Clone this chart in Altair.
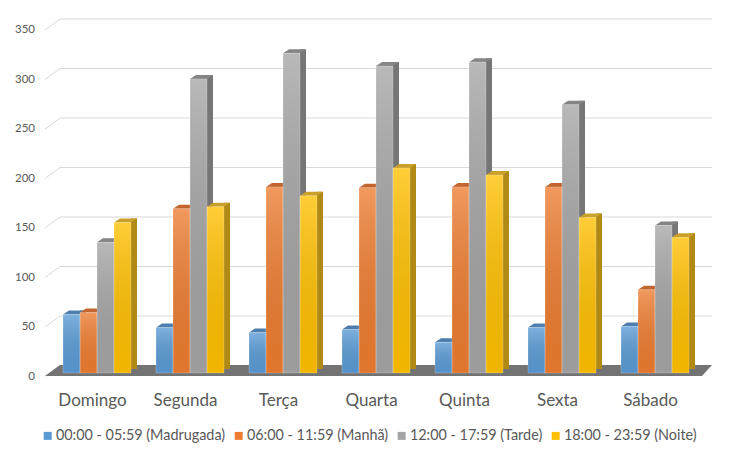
import altair as alt
import pandas as pd

days = ["Domingo", "Segunda", "Terça", "Quarta", "Quinta", "Sexta", "Sábado"]
series_names = [
    "00:00 - 05:59 (Madrugada)",
    "06:00 - 11:59 (Manhã)",
    "12:00 - 17:59 (Tarde)",
    "18:00 - 23:59 (Noite)",
]
madrugada = [59, 46, 41, 44, 31, 46, 47]
manha = [61, 166, 188, 187, 188, 188, 84]
tarde = [132, 297, 323, 310, 314, 271, 149]
noite = [152, 168, 179, 207, 200, 157, 137]
ticks = [0, 50, 100, 150, 200, 250, 300, 350]

front_colors = ["#5B9BD5", "#ED7D31", "#A5A5A5", "#FFC000"]
side_colors = ["#41719C", "#AE5A21", "#767676", "#B08A14"]
top_colors = ["#4E7EAD", "#C2652E", "#858585", "#C9A02A"]

rows = []
for name, vals in zip(series_names, [madrugada, manha, tarde, noite]):
    for d, v in zip(days, vals):
        rows.append({"day": d, "series": name, "value": v})
df = pd.DataFrame(rows)
grid_df = pd.DataFrame({"tick": ticks})
floor_df = pd.DataFrame({"k": [0]})

FONT = "Lato"
TXT = "#595959"
BAR_W = 17      # px width of one bar face
DEPTH_X = 6     # px of 3D depth to the right
DEPTH_Y = 4     # px of 3D depth upwards

yscale = alt.Scale(domain=[0, 350], nice=False, zero=True)
y_axis = alt.Axis(values=ticks, title=None, grid=False, ticks=False, domain=False,
                  labelPadding=16, labelFontSize=11.5, labelColor=TXT, labelFont=FONT,
                  labelOffset=3)
x_enc = alt.X("day:N", sort=days,
              scale=alt.Scale(paddingInner=0.269, paddingOuter=0.1345),
              axis=alt.Axis(title=None, labelAngle=0, ticks=False, domain=False, grid=False,
                            labelPadding=32.6, labelBaseline="alphabetic", labelFontSize=17,
                            labelColor=TXT, labelFont=FONT, labelOffset=-4.5))
xo_enc = alt.XOffset("series:N", sort=series_names,
                     scale=alt.Scale(paddingInner=0, paddingOuter=0))
y_enc = alt.Y("value:Q", scale=yscale, axis=y_axis)

grid_h = alt.Chart(grid_df).mark_rule(color="#d9d9d9", strokeWidth=1, yOffset=-7.5).encode(
    y=alt.Y("tick:Q", scale=yscale, axis=y_axis),
    x=alt.value(9.5), x2=alt.value(661.5))
grid_d = alt.Chart(grid_df).mark_rule(color="#d9d9d9", strokeWidth=1, yOffset=3.5,
                                      y2Offset=-7.5).encode(
    y=alt.Y("tick:Q", scale=yscale, axis=y_axis), y2=alt.Y2("tick"),
    x=alt.value(-5.5), x2=alt.value(9.5))

floor_path = "M -1 0.0165 L 0.970 0.0165 L 1 -0.0165 L -0.955 -0.0165 Z"
floor = alt.Chart(floor_df).mark_point(shape=floor_path, filled=True, opacity=1,
                                       size=444889, color="#737373", strokeWidth=0).encode(
    x=alt.value(328), y=alt.value(344))

top_path = "M -1 0.1739 L 0.4783 0.1739 L 1 -0.1739 L -0.4783 -0.1739 Z"
side_layers = []
top_layers = []
for i, name in enumerate(series_names):
    shift = (i - 1.5) * BAR_W
    side_layers.append(
        alt.Chart(df).transform_filter(alt.datum.series == name).mark_bar(
            width=DEPTH_X, color=side_colors[i],
            xOffset=shift + BAR_W / 2 + DEPTH_X / 2, yOffset=-DEPTH_Y, y2Offset=-3
        ).encode(x=x_enc, y=y_enc))
    top_layers.append(
        alt.Chart(df).transform_filter(alt.datum.series == name).mark_point(
            shape=top_path, filled=True, opacity=1,
            size=(BAR_W + DEPTH_X) ** 2, strokeWidth=0, color=top_colors[i],
            xOffset=shift + DEPTH_X / 2, yOffset=-DEPTH_Y / 2
        ).encode(x=x_enc, y=y_enc))

front = alt.Chart(df).mark_bar().encode(
    x=x_enc, xOffset=xo_enc, y=y_enc,
    color=alt.Color("series:N", sort=series_names,
                    scale=alt.Scale(domain=series_names, range=front_colors),
                    legend=alt.Legend(title=None, orient="none", legendX=-10, legendY=402,
                                      direction="horizontal", symbolType="square",
                                      symbolSize=64, symbolStrokeWidth=0,
                                      labelFontSize=14.4, labelFont=FONT, labelColor=TXT,
                                      labelLimit=400, labelOffset=1, columnPadding=6,
                                      padding=0)))

shine = alt.Chart(df).mark_bar(
    color=alt.Gradient(gradient="linear", x1=0, y1=0, x2=0, y2=1,
                       stops=[alt.GradientStop(offset=0, color="rgba(255,255,255,0.22)"),
                              alt.GradientStop(offset=1, color="rgba(0,0,0,0.05)")]),
    stroke="rgba(255,255,255,0.35)", strokeWidth=0.6).encode(
    x=x_enc, xOffset=xo_enc, y=y_enc)

chart = alt.layer(grid_h, grid_d, floor, *side_layers, *top_layers, front, shine).properties(
    width=651, height=346.5,
    autosize=alt.AutoSizeParams(type="none"),
    padding={"left": 42.5, "top": 18.5, "right": 20, "bottom": 80},
).configure_view(stroke="transparent")

chart.save("out.html", embed_options={"renderer": "svg", "actions": False})
